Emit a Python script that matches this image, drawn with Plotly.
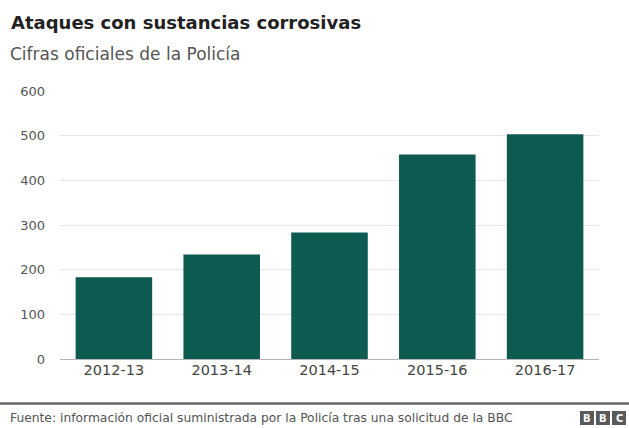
import plotly.graph_objects as go

categories = ["2012-13", "2013-14", "2014-15", "2015-16", "2016-17"]
values = [183, 234, 283, 458, 503]
y_ticks = [0, 100, 200, 300, 400, 500, 600]

title = "Ataques con sustancias corrosivas"
subtitle = "Cifras oficiales de la Policía"
source = "Fuente: información oficial suministrada por la Policía tras una solicitud de la BBC"

FONT = "DejaVu Sans, Liberation Sans, Arial, sans-serif"

W, H = 629, 428
L, R, T, B = 60, 30, 91, 69
PW, PH = W - L - R, H - T - B


def px(x):
    return (x - L) / PW


def py(y):
    return (H - B - y) / PH


fig = go.Figure(go.Bar(
    x=categories, y=values,
    marker=dict(color="#0c5a50", line=dict(width=0)),
    hoverinfo="x+y",
))

ann = [
    dict(text="<b>" + title + "</b>", x=px(9), y=py(23), xanchor="left", yanchor="middle",
         font=dict(size=18, color="#222222", family=FONT)),
    dict(text=subtitle, x=px(8), y=py(54), xanchor="left", yanchor="middle",
         font=dict(size=17, color="#555555", family=FONT)),
    dict(text=source, x=px(8), y=py(418), xanchor="left", yanchor="middle",
         font=dict(size=12.3, color="#555555", family=FONT)),
]
for cx, letter in [(587, "B"), (603, "B"), (619, "C")]:
    ann.append(dict(text="<b>" + letter + "</b>", x=px(cx), y=py(418), xanchor="center",
                    yanchor="middle", font=dict(size=10, color="white", family=FONT)))
for a in ann:
    a.update(xref="paper", yref="paper", showarrow=False)

shapes = [
    dict(type="line", xref="paper", yref="paper", x0=px(0), x1=px(629),
         y0=py(403.5), y1=py(403.5), line=dict(color="#666666", width=2.5)),
]
for x0 in [580, 596, 612]:
    shapes.append(dict(type="rect", xref="paper", yref="paper",
                       x0=px(x0), x1=px(x0 + 14), y0=py(425), y1=py(411),
                       fillcolor="#5a5a5a", line=dict(width=0)))

fig.update_layout(
    width=W, height=H,
    margin=dict(l=L, r=R, t=T, b=B, autoexpand=False),
    paper_bgcolor="white", plot_bgcolor="white",
    bargap=0.29,
    showlegend=False,
    font=dict(family=FONT, color="#555555"),
    xaxis=dict(
        tickfont=dict(size=14.5, color="#444444"),
        showgrid=False, showline=False, ticks="", automargin=False,
    ),
    yaxis=dict(
        range=[0, 600], tickvals=y_ticks,
        tickfont=dict(size=13, color="#555555"),
        showgrid=True, gridcolor="#e6e6e6", gridwidth=1,
        zeroline=True, zerolinecolor="#b5b5b5", zerolinewidth=1,
        ticks="", ticklen=0, ticklabelstandoff=14, automargin=False,
        showline=False,
    ),
    annotations=ann,
    shapes=shapes,
)

fig.write_html("out.html", config={"displayModeBar": False},
               post_script="document.body.style.margin='0';")
